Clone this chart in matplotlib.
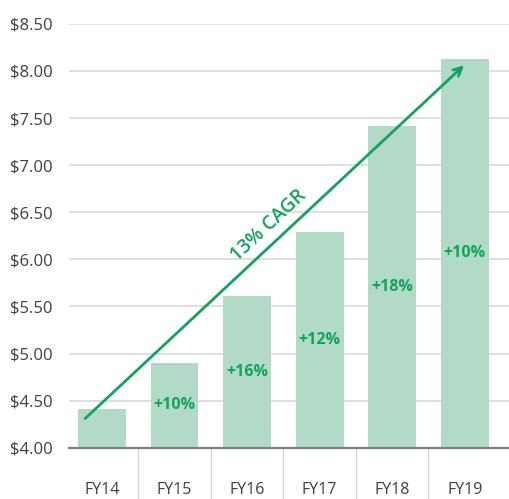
import matplotlib.pyplot as plt
import numpy as np

years = ["FY14", "FY15", "FY16", "FY17", "FY18", "FY19"]
eps = [4.41, 4.90, 5.61, 6.29, 7.42, 8.13]
growth = ["", "+10%", "+16%", "+12%", "+18%", "+10%"]
yticks = [4.0, 4.5, 5.0, 5.5, 6.0, 6.5, 7.0, 7.5, 8.0, 8.5]
cagr_label = "13% CAGR"

bar_color = "#b2dbc7"
green = "#12a35e"
text_gray = "#404040"

plt.rcParams['font.family'] = ['Open Sans', 'DejaVu Sans']

fig = plt.figure(figsize=(5.09, 4.99), dpi=100)
ax = fig.add_axes([0.1356, 0.1028, 0.8644, 0.8494])

x = np.arange(len(years))
base = yticks[0]
ax.bar(x, [v - base for v in eps], bottom=base, width=0.66, color=bar_color, zorder=2)

# growth labels in the middle of each bar
for xi, v, g in zip(x, eps, growth):
    if g:
        ax.text(xi, (base + v) / 2, g, ha='center', va='center',
                color=green, fontsize=11.5, fontweight='bold', zorder=3)

# CAGR arrow from FY14 to FY19
ax.annotate("", xy=(4.99, 8.06), xytext=(-0.23, 4.31),
            arrowprops=dict(arrowstyle='->,head_length=0.6,head_width=0.3',
                            color=green, lw=2.0, shrinkA=0, shrinkB=0),
            zorder=4)
ax.text(2.3, 6.36, cagr_label, rotation=43, ha='center', va='center',
        color=green, fontsize=14, fontweight='semibold', zorder=4)

ax.set_xlim(-0.453, 5.61)
ax.set_ylim(4.0, 8.5)
ax.set_yticks(yticks)
ax.set_yticklabels([f"${t:.2f}" for t in yticks])
ax.set_xticks(x)
ax.set_xticklabels(years)
ax.set_xticks(x[:-1] + 0.5, minor=True)

ax.yaxis.grid(True, color="#d9d9d9", lw=1.2, zorder=0)
ax.tick_params(axis='y', length=0, pad=12, labelsize=12, labelcolor=text_gray)
ax.tick_params(axis='x', which='major', length=0, pad=25, labelsize=11.5, labelcolor=text_gray)
ax.tick_params(axis='x', which='minor', length=40, width=1, color="#d9d9d9", direction='out')

for s in ['top', 'right', 'left']:
    ax.spines[s].set_visible(False)
ax.spines['bottom'].set_color("#7f7f7f")
ax.spines['bottom'].set_linewidth(1.6)
ax.spines['bottom'].set_zorder(5)

fig.savefig("out.png", dpi=100)
